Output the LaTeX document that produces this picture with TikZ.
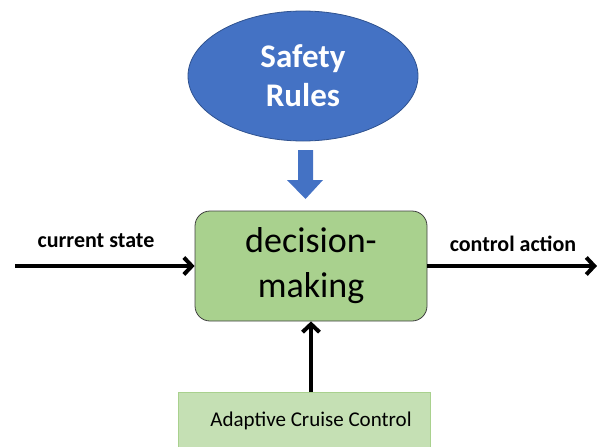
\documentclass[tikz,border=0pt]{standalone}
\usepackage{fontspec}
\setmainfont{Carlito}
\usetikzlibrary{shapes.geometric,arrows.meta}
\definecolor{rulesblue}{HTML}{4472C4}
\definecolor{rulesedge}{HTML}{2F528F}
\definecolor{decgreen}{HTML}{A9D18E}
\definecolor{accgreen}{HTML}{C5E0B4}
\tikzset{
    flow/.style={line width=4pt, -{Straight Barb[length=8pt,width=17pt,line width=4pt]}},
    flowlabel/.style={font=\fontsize{22}{24}\selectfont\bfseries}
}
\begin{document}
\begin{tikzpicture}[x=1pt, y=-1pt]
    \useasboundingbox (0,0) rectangle (597,447);
    \clip (0,0) rectangle (597,447);
    % safety rules on top
    \node[ellipse, fill=rulesblue, draw=rulesedge, line width=0.8pt, minimum width=230pt, minimum height=130pt,
          text=white, align=center, font=\fontsize{33}{39}\selectfont\bfseries] (rules) at (303,76) {Safety\\Rules};
    \fill[rulesblue] (298,150) -- (313,150) -- (313,180) -- (323,180) -- (305.5,199) -- (287,180) -- (298,180) -- cycle;
    % central block
    \node[draw=black!75, fill=decgreen, rounded corners=15pt, line width=0.8pt, minimum width=232pt, minimum height=110pt,
          align=center, font=\fontsize{36}{45}\selectfont] (decide) at (311,266) {decision-\\making};
    % controller below
    \node[draw=decgreen, fill=accgreen, line width=0.8pt, minimum width=252pt, minimum height=80pt, anchor=north] (acc) at (304,392) {};
    \node[font=\fontsize{21}{24}\selectfont] (acctext) at (311,421) {Adaptive Cruise Control};
    \coordinate (instart) at (15,266);
    \coordinate (outend) at (597,266);
    \draw[flow] (instart) -- (decide.west);
    \draw[flow] (decide.east) -- (outend);
    \draw[flow] (acc.north -| decide.south) -- (decide.south);
    \node[flowlabel] (inlabel) at (96,241) {current state};
    \node[flowlabel] (outlabel) at (513,244) {control action};
\end{tikzpicture}
\end{document}
